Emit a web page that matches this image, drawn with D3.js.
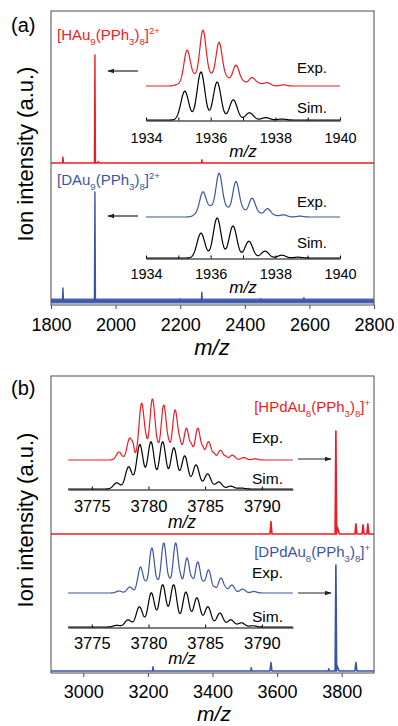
<!DOCTYPE html>
<html><head><meta charset="utf-8">
<script src="https://cdn.jsdelivr.net/npm/d3@7"></script>
<style>body{margin:0;background:#fff}svg{display:block}text{font-family:"Liberation Sans",Arial,Helvetica,sans-serif;fill:#000}</style>
</head><body><svg id="c" width="398" height="726"></svg>
<script>
// ---------------- DATA ----------------
// main axis ticks
const ticksA = [1800, 2000, 2200, 2400, 2600, 2800];
const ticksB = [3000, 3200, 3400, 3600, 3800];
const insetTicksA = [1934, 1935, 1936, 1937, 1938, 1939, 1940];
const insetLabelsA = [1934, 1936, 1938, 1940];
const insetTicksB = [3775, 3780, 3785, 3790];

// full-range spectra: [m/z, relative intensity %, (optional half-width)]
const specHAu9 = [[1837, 5.5], [1936, 100], [1946, 1.5], [2267, 3]];
const specDAu9 = [[1837, 12], [1936, 100], [2267, 8], [2583, 3], [2200, 2], [2450, 2]];
const specHPd = [[3581, 12, 3], [3782, 100, 2.5], [3786, 7, 7], [3844, 10, 3], [3866, 9, 3], [3881, 10, 3]];
const specDPd = [[3216, 4], [3520, 3], [3581, 8, 3], [3760, 2], [3782, 100, 2.5], [3786, 5, 6], [3844, 8, 3]];

// isotope patterns (insets): [m/z, relative intensity %, (optional sigma)]
const expHAu9 = [[1935.0, 3], [1935.27, 64], [1935.5, 15], [1935.76, 100], [1936.0, 16], [1936.26, 78], [1936.5, 13],
  [1936.78, 37], [1937.0, 7], [1937.28, 15], [1937.5, 4], [1937.75, 6], [1938.25, 2]];
const simHAu9 = [[1935.2, 60], [1935.7, 100], [1936.2, 79], [1936.7, 42], [1937.2, 15], [1937.7, 5], [1938.2, 2]];
const expDAu9 = [[1935.55, 5], [1935.76, 57], [1936.0, 20], [1936.26, 100], [1936.5, 18], [1936.78, 81], [1937.0, 14],
  [1937.28, 43], [1937.5, 7], [1937.76, 19], [1938.0, 3], [1938.26, 5], [1938.76, 2]];
const simDAu9 = [[1935.7, 62], [1936.2, 100], [1936.69, 80], [1937.18, 42], [1937.68, 17], [1938.2, 7], [1938.7, 2]];

const expHPd = [[3777.4, 13], [3778.35, 36], [3778.65, 10, 0.1], [3779.4, 93], [3779.8, 10, 0.12], [3780.35, 100],
  [3780.8, 8, 0.12], [3781.35, 90], [3781.8, 12, 0.12], [3782.35, 82], [3782.8, 16, 0.14], [3783.35, 52],
  [3783.8, 14, 0.12], [3784.35, 52], [3784.8, 10, 0.12], [3785.3, 30], [3785.8, 7, 0.12], [3786.35, 16],
  [3786.85, 4, 0.12], [3787.4, 8], [3788.4, 4], [3789.4, 2]];
const simHPd = [[3777.2, 13], [3778.25, 47], [3779.24, 94], [3780.22, 100], [3781.25, 100], [3782.24, 87],
  [3783.2, 70], [3784.2, 51], [3785.22, 32], [3786.2, 15], [3787.25, 6], [3788.2, 2]];
const expDPd = [[3777.4, 4], [3778.35, 12], [3779.3, 52], [3779.75, 9, 0.12], [3780.3, 90], [3780.8, 10, 0.12],
  [3781.35, 100], [3781.85, 12, 0.12], [3782.4, 100], [3782.85, 14, 0.12], [3783.4, 70], [3783.85, 12, 0.12],
  [3784.35, 62], [3784.85, 9, 0.12], [3785.3, 46], [3785.85, 7, 0.12], [3786.4, 30], [3786.85, 4, 0.12],
  [3787.35, 16], [3788.3, 8], [3789.3, 3]];
const simDPd = [[3777.2, 4], [3778.2, 17], [3779.2, 48], [3780.25, 81], [3781.25, 100], [3782.22, 100],
  [3783.3, 83], [3784.27, 69], [3785.24, 48], [3786.3, 33], [3787.27, 17], [3788.2, 10], [3789.2, 3]];

// ---------------- DRAWING ----------------
const RED = '#ec1c24', BLUE = '#3b54a5', FRAME = '#4a4a4a';
const svg = d3.select('#c');
const defs = svg.append('defs');
defs.append('marker').attr('id', 'ah').attr('viewBox', '0 0 10 10').attr('refX', 9).attr('refY', 5)
  .attr('markerWidth', 6).attr('markerHeight', 6).attr('orient', 'auto-start-reverse')
  .append('path').attr('d', 'M0,1.5 L10,5 L0,8.5 Z').attr('fill', '#222');

function stickSpectrum(peaks, hw, domain) {
  const pts = [[domain[0], 0]];
  peaks.slice().sort((a, b) => a[0] - b[0]).forEach(p => {
    const w = p[2] || hw;
    pts.push([p[0] - w, 0], [p[0], p[1]], [p[0] + w, 0]);
  });
  pts.push([domain[1], 0]);
  return pts;
}
function broadened(peaks, sigma, domain, step) {
  const pts = [];
  for (let m = domain[0]; m <= domain[1] + 1e-9; m += step) {
    let v = 0;
    peaks.forEach(p => { const s = p[2] || sigma; v += p[1] * Math.exp(-((m - p[0]) ** 2) / (2 * s * s)); });
    pts.push([m, v]);
  }
  return pts;
}
function drawLine(data, x, y, color, w) {
  svg.append('path').datum(data)
    .attr('d', d3.line().x(d => x(d[0])).y(d => y(d[1])))
    .attr('fill', 'none').attr('stroke', color).attr('stroke-width', w).attr('stroke-linejoin', 'round');
}
function formula(x, y, parts, color, anchor, size) {
  const t = svg.append('text').attr('x', x).attr('y', y).attr('text-anchor', anchor)
    .style('font-size', size + 'px').style('fill', color);
  let cur = 0;
  parts.forEach(([s, k]) => {
    const off = k === 'sub' ? size * 0.3 : k === 'sup' ? -size * 0.42 : 0;
    t.append('tspan').attr('dy', off - cur).style('font-size', k === 'n' ? size + 'px' : (size * 0.64) + 'px').text(s);
    cur = off;
  });
}
function txt(x, y, s, size, opts = {}) {
  const t = svg.append('text').attr('x', x).attr('y', y).style('font-size', size + 'px').text(s);
  if (opts.anchor) t.attr('text-anchor', opts.anchor);
  if (opts.italic) t.style('font-style', 'italic');
  if (opts.color) t.style('fill', opts.color);
  return t;
}
function arrow(x1, x2, y) {
  svg.append('line').attr('x1', x1).attr('x2', x2).attr('y1', y).attr('y2', y)
    .attr('stroke', '#222').attr('stroke-width', 1.2).attr('marker-end', 'url(#ah)');
}
function mainAxis(x, ticks, y0, pad) {
  const g = svg.append('g').attr('transform', `translate(0,${y0})`)
    .call(d3.axisBottom(x).tickValues(ticks).tickSize(4).tickPadding(pad).tickFormat(d3.format('d')));
  g.select('.domain').remove();
  g.selectAll('line').attr('stroke', FRAME);
  g.selectAll('text').style('font-size', '18px').attr('fill', '#000')
    .style('font-family', '"Liberation Sans",Arial,sans-serif');
}
function insetAxis(x, ticks, labels, y0, pad, size) {
  const g = svg.append('g').attr('transform', `translate(0,${y0})`)
    .call(d3.axisBottom(x).tickValues(ticks).tickSizeInner(-3).tickSizeOuter(0).tickPadding(pad)
      .tickFormat(d => labels.includes(d) ? d : ''));
  g.select('.domain').attr('stroke', '#000').attr('stroke-width', 1.1);
  g.selectAll('line').attr('stroke', '#000');
  g.selectAll('text').style('font-size', size + 'px').attr('fill', '#000')
    .style('font-family', '"Liberation Sans",Arial,sans-serif');
}

// ===== Panel (a) =====
const xA = d3.scaleLinear().domain([1800, 2800]).range([51, 374]);
const yA1 = d3.scaleLinear().domain([0, 100]).range([163, 55]);
const yA2 = d3.scaleLinear().domain([0, 100]).range([301, 192]);
// blue noise band
svg.append('line').attr('x1', 51).attr('x2', 374).attr('y1', yA2(0)).attr('y2', yA2(0))
  .attr('stroke', BLUE).attr('stroke-width', 5).attr('opacity', 0.9);
drawLine(stickSpectrum(specHAu9, 1.6, xA.domain()), xA, yA1, RED, 1.4);
drawLine(stickSpectrum(specDAu9, 1.6, xA.domain()), xA, yA2, BLUE, 1.4);
svg.append('rect').attr('x', 51).attr('y', 11).attr('width', 323).attr('height', 294)
  .attr('fill', 'none').attr('stroke', FRAME).attr('stroke-width', 1);
mainAxis(xA, ticksA, 305, 9);
txt(212, 355, 'm/z', 22, {anchor: 'middle', italic: true});
txt(11, 32, '(a)', 20);

formula(57, 40, [['[HAu', 'n'], ['9', 'sub'], ['(PPh', 'n'], ['3', 'sub'], [')', 'n'], ['8', 'sub'], [']', 'n'], ['2+', 'sup']], RED, 'start', 15);
formula(57, 185, [['[DAu', 'n'], ['9', 'sub'], ['(PPh', 'n'], ['3', 'sub'], [')', 'n'], ['8', 'sub'], [']', 'n'], ['2+', 'sup']], BLUE, 'start', 15);
arrow(138, 108, 71);
arrow(138, 108, 216);

const xAi = d3.scaleLinear().domain([1934, 1940]).range([146, 340]);
const yAe1 = d3.scaleLinear().domain([0, 100]).range([86, 31]);
const yAs1 = d3.scaleLinear().domain([0, 100]).range([120, 72]);
const yAe2 = d3.scaleLinear().domain([0, 100]).range([217, 174]);
const yAs2 = d3.scaleLinear().domain([0, 100]).range([258, 218]);
drawLine(broadened(expHAu9, 0.1, xAi.domain(), 0.01), xAi, yAe1, RED, 1.2);
insetAxis(xAi, insetTicksA, insetLabelsA, 120.5, 12, 14.5);
drawLine(broadened(simHAu9, 0.12, xAi.domain(), 0.01), xAi, yAs1, '#000', 1.2);
drawLine(broadened(expDAu9, 0.1, xAi.domain(), 0.01), xAi, yAe2, BLUE, 1.2);
insetAxis(xAi, insetTicksA, insetLabelsA, 258.5, 10, 14.5);
drawLine(broadened(simDAu9, 0.12, xAi.domain(), 0.01), xAi, yAs2, '#000', 1.2);
txt(297, 73, 'Exp.', 15);
txt(297, 113, 'Sim.', 15);
txt(297, 207, 'Exp.', 15);
txt(297, 248, 'Sim.', 15);
txt(243, 157, 'm/z', 17, {anchor: 'middle', italic: true});
txt(243, 293, 'm/z', 17, {anchor: 'middle', italic: true});

// ===== Panel (b) =====
const xB = d3.scaleLinear().domain([2900, 3900]).range([51, 374]);
const yB1 = d3.scaleLinear().domain([0, 100]).range([534, 431]);
const yB2 = d3.scaleLinear().domain([0, 100]).range([671, 565]);
drawLine(stickSpectrum(specHPd, 1.6, xB.domain()), xB, yB1, RED, 1.6);
drawLine(stickSpectrum(specDPd, 1.6, xB.domain()), xB, yB2, BLUE, 1.6);
svg.append('rect').attr('x', 51).attr('y', 376).attr('width', 323).attr('height', 297)
  .attr('fill', 'none').attr('stroke', FRAME).attr('stroke-width', 1);
mainAxis(xB, ticksB, 673, 8);
txt(214, 721, 'm/z', 21, {anchor: 'middle', italic: true});
txt(11, 395, '(b)', 20);

formula(370, 412, [['[HPdAu', 'n'], ['8', 'sub'], ['(PPh', 'n'], ['3', 'sub'], [')', 'n'], ['8', 'sub'], [']', 'n'], ['+', 'sup']], RED, 'end', 15);
formula(370, 557, [['[DPdAu', 'n'], ['8', 'sub'], ['(PPh', 'n'], ['3', 'sub'], [')', 'n'], ['8', 'sub'], [']', 'n'], ['+', 'sup']], BLUE, 'end', 15);
arrow(298, 331, 459);
arrow(298, 331, 593);

const xBi = d3.scaleLinear().domain([3772.9, 3792.75]).range([68, 293]);
const yBe1 = d3.scaleLinear().domain([0, 100]).range([460, 399]);
const yBs1 = d3.scaleLinear().domain([0, 100]).range([489, 442]);
const yBe2 = d3.scaleLinear().domain([0, 100]).range([593, 543]);
const yBs2 = d3.scaleLinear().domain([0, 100]).range([627, 585]);
drawLine(broadened(expHPd, 0.24, xBi.domain(), 0.02), xBi, yBe1, RED, 1.2);
insetAxis(xBi, insetTicksB, insetTicksB, 489.5, 11, 16.5);
drawLine(broadened(simHPd, 0.29, xBi.domain(), 0.02), xBi, yBs1, '#000', 1.2);
drawLine(broadened(expDPd, 0.24, xBi.domain(), 0.02), xBi, yBe2, BLUE, 1.2);
insetAxis(xBi, insetTicksB, insetTicksB, 627.5, 10, 16.5);
drawLine(broadened(simDPd, 0.29, xBi.domain(), 0.02), xBi, yBs2, '#000', 1.2);
txt(252, 443, 'Exp.', 15.5);
txt(252, 484, 'Sim.', 15.5);
txt(252, 578, 'Exp.', 15.5);
txt(252, 622, 'Sim.', 15.5);
txt(182, 528, 'm/z', 17.5, {anchor: 'middle', italic: true});
txt(182, 664, 'm/z', 17, {anchor: 'middle', italic: true});

// y titles
svg.append('text').attr('transform', 'translate(33,154) rotate(-90)').attr('text-anchor', 'middle')
  .style('font-size', '22px').text('Ion intensity (a.u.)');
svg.append('text').attr('transform', 'translate(33,520) rotate(-90)').attr('text-anchor', 'middle')
  .style('font-size', '22px').text('Ion intensity (a.u.)');
</script></body></html>
